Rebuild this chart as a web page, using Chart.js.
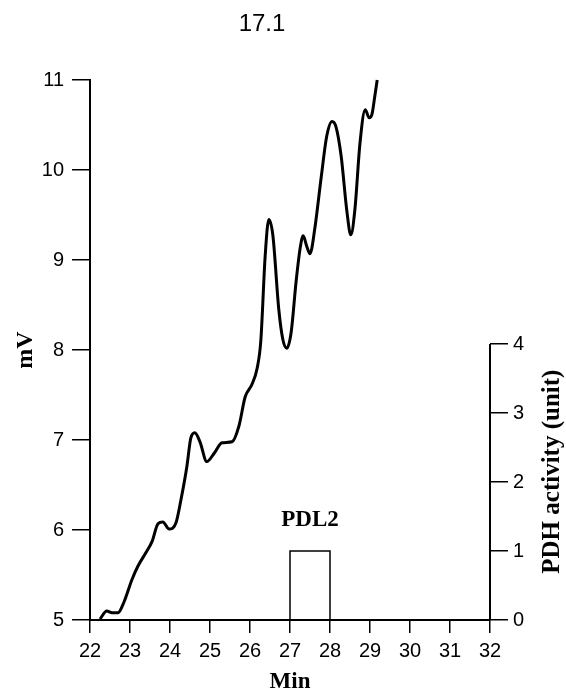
<!DOCTYPE html>
<html>
<head>
<meta charset="utf-8">
<script src="https://cdn.jsdelivr.net/npm/chart.js@4"></script>
<style>
  body { margin: 0; background: #fff; }
</style>
</head>
<body>
<canvas id="pdhChart" width="566" height="700"></canvas>
<script>
// recorded trace (time in min, signal in mV)
const traceMin = [22.25, 22.42, 22.55, 22.70, 22.85, 23.05, 23.20, 23.40, 23.55, 23.70,
  23.82, 23.98, 24.15, 24.28, 24.42, 24.52, 24.62, 24.75, 24.92, 25.10,
  25.30, 25.55, 25.72, 25.88, 26.05, 26.18, 26.27, 26.38, 26.47, 26.57,
  26.72, 26.82, 26.92, 27.03, 27.15, 27.25, 27.33, 27.42, 27.50, 27.62,
  27.78, 27.92, 28.05, 28.15, 28.28, 28.42, 28.52, 28.62, 28.75, 28.88,
  28.98, 29.05, 29.12, 29.18];
const traceMV = [5.01, 5.10, 5.08, 5.08, 5.20, 5.45, 5.60, 5.75, 5.87, 6.07,
  6.09, 6.01, 6.08, 6.35, 6.70, 7.02, 7.08, 6.98, 6.76, 6.85,
  6.97, 6.98, 7.15, 7.48, 7.62, 7.80, 8.10, 9.05, 9.45, 9.28,
  8.45, 8.12, 8.02, 8.20, 8.75, 9.12, 9.27, 9.15, 9.07, 9.35,
  9.92, 10.38, 10.54, 10.48, 10.15, 9.55, 9.28, 9.55, 10.30, 10.67,
  10.58, 10.62, 10.82, 11.0];

// PDH activity box (PDL2 fraction)
const pdlStart = 27;
const pdlEnd = 28;
const pdlActivity = 1;
const pdlLabel = 'PDL2';

const minTicks = [22, 23, 24, 25, 26, 27, 28, 29, 30, 31, 32];
const mvTicks = [5, 6, 7, 8, 9, 10, 11];
const unitTicks = [0, 1, 2, 3, 4];

const sansFont = '"Liberation Sans", Arial, sans-serif';
const serifFont = '"Liberation Serif", "Times New Roman", serif';

const tracePoints = traceMin.map((m, i) => ({ x: m, y: traceMV[i] }));
const boxPoints = [
  { x: pdlStart, y: 0 },
  { x: pdlStart, y: pdlActivity },
  { x: pdlEnd, y: pdlActivity },
  { x: pdlEnd, y: 0 }
];

// extra drawing: title, right axis line, rotated right title, box label
const extras = {
  id: 'extras',
  afterDraw(chart) {
    const ctx = chart.ctx;
    const x = chart.scales.x;
    const y2 = chart.scales.y2;
    const area = chart.chartArea;
    ctx.save();
    ctx.fillStyle = '#000';
    ctx.strokeStyle = '#000';

    ctx.font = '24px ' + sansFont;
    ctx.textAlign = 'center';
    ctx.textBaseline = 'middle';
    ctx.fillText('17.1', 262, 24);

    ctx.lineWidth = 2;
    ctx.beginPath();
    ctx.moveTo(area.right, y2.getPixelForValue(0));
    ctx.lineTo(area.right, y2.getPixelForValue(unitTicks[unitTicks.length - 1]));
    ctx.stroke();

    ctx.font = 'bold 23px ' + serifFont;
    ctx.fillText(pdlLabel, x.getPixelForValue((pdlStart + pdlEnd) / 2),
      y2.getPixelForValue(pdlActivity) - 31);

    ctx.translate(553, y2.getPixelForValue(2.15));
    ctx.rotate(-Math.PI / 2);
    ctx.font = 'bold 25px ' + serifFont;
    ctx.fillText('PDH activity (unit)', 0, 0);
    ctx.restore();
  }
};

new Chart(document.getElementById('pdhChart'), {
  type: 'line',
  data: {
    datasets: [{
      data: tracePoints,
      yAxisID: 'y',
      borderColor: '#000',
      borderWidth: 3,
      pointRadius: 0,
      cubicInterpolationMode: 'monotone',
      clip: false
    }, {
      data: boxPoints,
      yAxisID: 'y2',
      borderColor: '#000',
      borderWidth: 1.5,
      pointRadius: 0,
      tension: 0
    }]
  },
  options: {
    responsive: false,
    animation: false,
    layout: { padding: { top: 80 } },
    plugins: {
      legend: { display: false },
      tooltip: { enabled: false }
    },
    scales: {
      x: {
        type: 'linear',
        min: 22,
        max: 32,
        afterFit: (s) => { s.height = 80; },
        afterBuildTicks: (s) => { s.ticks = minTicks.map(v => ({ value: v })); },
        ticks: { color: '#000', font: { size: 20, family: sansFont }, padding: 6, maxRotation: 0 },
        grid: { drawOnChartArea: false, tickLength: 13, color: '#000', lineWidth: 1.5 },
        border: { color: '#000', width: 2 },
        title: {
          display: true, text: 'Min', color: '#000',
          font: { size: 23, weight: 'bold', family: serifFont },
          padding: { top: 0, bottom: 4 }
        }
      },
      y: {
        position: 'left',
        min: 5,
        max: 11,
        afterFit: (s) => { s.width = 90; },
        afterBuildTicks: (s) => { s.ticks = mvTicks.map(v => ({ value: v })); },
        ticks: { color: '#000', font: { size: 20, family: sansFont }, padding: 8 },
        grid: { drawOnChartArea: false, tickLength: 18, color: '#000', lineWidth: 1.5 },
        border: { color: '#000', width: 2 },
        title: {
          display: true, text: 'mV', color: '#000',
          font: { size: 24, weight: 'bold', family: serifFont },
          padding: { top: 11, bottom: 0 }
        }
      },
      y2: {
        position: 'right',
        min: 0,
        max: 540 / 69,
        afterFit: (s) => { s.width = 76; },
        afterBuildTicks: (s) => { s.ticks = unitTicks.map(v => ({ value: v })); },
        ticks: { color: '#000', font: { size: 20, family: sansFont }, padding: 5 },
        grid: { drawOnChartArea: false, tickLength: 18, color: '#000', lineWidth: 1.5 },
        border: { display: false }
      }
    }
  },
  plugins: [extras]
});
</script>
</body>
</html>
